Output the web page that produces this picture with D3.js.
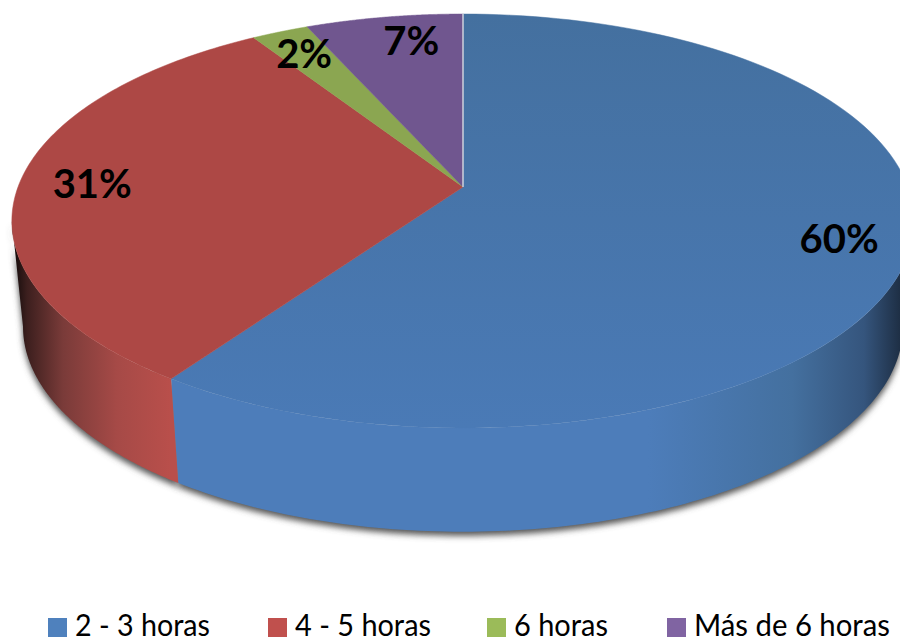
<!DOCTYPE html>
<html>
<head>
<meta charset="utf-8">
<script src="https://cdn.jsdelivr.net/npm/d3@7/dist/d3.min.js"></script>
<style>
  html, body { margin: 0; padding: 0; background: #fff; overflow: hidden; }
  text { font-family: Lato, "Open Sans", sans-serif; }
</style>
</head>
<body>
<div id="chart"></div>
<script>
const categories = ["2 - 3 horas", "4 - 5 horas", "6 horas", "Más de 6 horas"];
const shares = [59.6, 31.4, 2.4, 6.6];
const topColors = ["#4874ab", "#ad4845", "#8ba651", "#70568f"];
const legendColors = ["#4f81bd", "#c0504d", "#9bbb59", "#8064a2"];

const width = 900, height = 639;
const cx = 463;                    // apex of the pie on screen
const topY = 187, sideY = 293;     // apex height of top face / bottom face
const skew = 0.1643;               // perspective: back of the disc looks shorter than the front
const topRx = 445, topRy = 201.4, sideRx = 434, sideRy = 199.5;

window.onload = init;

function init() {
    const svg = d3.select("#chart").append("svg")
        .attr("width", width)
        .attr("height", height);

    const defs = svg.append("defs");
    defs.append("filter").attr("id", "soft")
        .attr("x", "-5%").attr("y", "-5%").attr("width", "110%").attr("height", "110%")
        .append("feGaussianBlur").attr("stdDeviation", 3);

    // side shading runs left to right, dark at the far ends
    const sideStops = [
        ["side-0", [[0.013, "#0d0808"], [0.03, "#3c1f1e"], [0.07, "#7a3b39"], [0.13, "#a64a47"], [0.19, "#b94f4b"], [1, "#b94f4b"]]],
        ["side-1", [[0, "#4d7dba"], [0.72, "#4d7dba"], [0.88, "#44709f"], [0.96, "#35557d"], [1, "#1e2f45"]]]
    ];
    sideStops.forEach(([id, stops]) => {
        const g = defs.append("linearGradient").attr("id", id)
            .attr("gradientUnits", "userSpaceOnUse")
            .attr("x1", 0).attr("x2", width).attr("y1", 0).attr("y2", 0);
        stops.forEach(s => g.append("stop").attr("offset", s[0]).attr("stop-color", s[1]));
    });
    const topGrad = defs.append("linearGradient").attr("id", "top-blue")
        .attr("x1", 0).attr("x2", 0).attr("y1", 0).attr("y2", 1);
    topGrad.append("stop").attr("offset", 0).attr("stop-color", "#44709f");
    topGrad.append("stop").attr("offset", 1).attr("stop-color", "#4a7ab6");

    const color = d3.scaleOrdinal(categories, topColors);
    const legendColor = d3.scaleOrdinal(categories, legendColors);

    const pie = d3.pie().sort(null).value((d, i) => shares[i]);   // 0 = 12 o'clock, clockwise
    const arcs = pie(categories);

    function project(a, r, rx, ry, y0) {
        const k = 1 + skew * Math.cos(a) * r;
        return [cx + rx * r * Math.sin(a) / k, y0 - ry * r * Math.cos(a) / k];
    }
    const topPt = (a, r = 1) => project(a, r, topRx, topRy, topY);
    const sidePt = a => project(a, 1, sideRx, sideRy, sideY);
    const line = d3.line();
    const steps = (a0, a1) => d3.range(0, 121).map(i => a0 + (a1 - a0) * i / 120);

    // walls only show between the left and right extremes of the disc
    const rightEdge = Math.acos(-skew), leftEdge = 2 * Math.PI - rightEdge;
    const wall = (a0, a1) => {
        const s = steps(Math.max(a0, rightEdge), Math.min(a1, leftEdge));
        return line(s.map(a => topPt(a)).concat(s.reverse().map(sidePt))) + "Z";
    };
    const visible = arcs.filter(d => d.endAngle > rightEdge && d.startAngle < leftEdge);

    // drop shadow under the disc
    svg.selectAll("path.shadow").data(visible).enter().append("path")
        .attr("class", "shadow")
        .attr("d", d => wall(d.startAngle, d.endAngle))
        .attr("transform", "translate(0,4)")
        .attr("fill", "#555")
        .attr("filter", "url(#soft)");

    svg.selectAll("path.side").data(visible).enter().append("path")
        .attr("class", "side")
        .attr("d", d => wall(d.startAngle, d.endAngle))
        .attr("fill", d => d.index === 0 ? "url(#side-1)" : "url(#side-0)");

    // top faces
    svg.selectAll("path.top").data(arcs).enter().append("path")
        .attr("class", "top")
        .attr("d", d => line([topPt(0, 0)].concat(steps(d.startAngle, d.endAngle).map(a => topPt(a)))) + "Z")
        .attr("fill", d => d.index === 0 ? "url(#top-blue)" : color(d.data))
        .attr("stroke", d => d.index === 0 ? "url(#top-blue)" : color(d.data))
        .attr("stroke-width", 0.5);

    // pale seam between the first and last slice
    svg.append("path")
        .attr("d", line([topPt(0, 0), topPt(0)]))
        .attr("stroke", "#cdd3dc")
        .attr("stroke-width", 1.5)
        .attr("fill", "none");

    // percent labels
    const labelNudge = [4, 2, -2, 16];
    svg.selectAll("text.pct").data(arcs).enter().append("text")
        .attr("class", "pct")
        .attr("x", d => topPt((d.startAngle + d.endAngle) / 2, 0.84)[0] + labelNudge[d.index])
        .attr("y", d => topPt((d.startAngle + d.endAngle) / 2, 0.84)[1])
        .attr("dy", "0.35em")
        .attr("text-anchor", "middle")
        .attr("font-size", 40)
        .attr("font-weight", 700)
        .attr("fill", "#000")
        .text((d, i) => Math.round(shares[i]) + "%");

    // legend
    const legendX = [48, 268, 487, 667];
    const legendW = [135, 136, 94, 196];
    const item = svg.selectAll("g.item").data(categories).enter().append("g")
        .attr("class", "item")
        .attr("transform", (d, i) => `translate(${legendX[i]},618)`);
    item.append("rect")
        .attr("width", 19).attr("height", 19)
        .attr("fill", d => legendColor(d));
    item.append("text")
        .attr("x", 27).attr("y", 18)
        .attr("font-size", 30)
        .attr("fill", "#000")
        .attr("textLength", (d, i) => legendW[i])
        .attr("lengthAdjust", "spacingAndGlyphs")
        .text(d => d);
}
</script>
</body>
</html>
